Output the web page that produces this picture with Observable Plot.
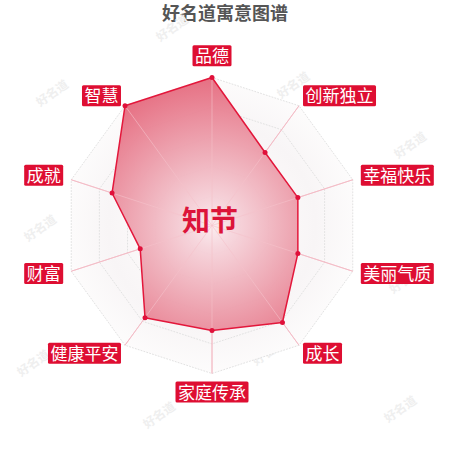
<!DOCTYPE html>
<html><head><meta charset="utf-8">
<script src="https://cdn.jsdelivr.net/npm/d3@7"></script>
<script src="https://cdn.jsdelivr.net/npm/@observablehq/plot@0.6"></script>
<style>
html,body{margin:0;padding:0;background:#fff;}
body{width:450px;height:450px;overflow:hidden;font-family:"Noto Sans CJK SC","Noto Sans",sans-serif;}
#title{height:24px;line-height:24px;text-align:center;font-size:18px;font-weight:bold;color:#555;width:450px;}
#chart svg{display:block;}
</style></head><body>
<div id="title"></div>
<div id="chart"></div>
<script>
const titleText = "好名道寓意图谱";
const centerName = "知节";
const categories = ["品德","创新独立","幸福快乐","美丽气质","成长","家庭传承","健康平安","财富","成就","智慧"];
const values = [100, 61, 61, 61, 81, 71, 77, 51, 71, 100];
const levels = [20, 40, 60, 80, 100];
const maxValue = 100;
const watermarkText = "好名道";
const watermarkX = [-26.7, 55.1, -107.8, 134.1, -115.9, -120.6, 38.2, -35.5, 127.4, 130.7];
const watermarkY = [133.1, 94.6, 89.2, 54.1, -2.0, -93.2, -85.8, -128.4, -124.3, -37.2];

document.getElementById("title").textContent = titleText;

// layout
const W = 450, H = 426, cx = 211.5, cy = 201, k = 1.48; // px per unit
const labelR = 107.5;

const n = categories.length;
const axes = categories.map((c, i) => ({c, a: i * 2 * Math.PI / n, v: values[i]}));
const px = (r, a) => r * Math.sin(a), py = (r, a) => r * Math.cos(a);
const ringPts = levels.flatMap(l => axes.map(d => ({l, x: px(l, d.a), y: py(l, d.a)})));
const outer = axes.map(d => ({x: px(maxValue, d.a), y: py(maxValue, d.a)}));
const spokes = axes.map(d => ({x2: px(maxValue, d.a), y2: py(maxValue, d.a)}));
const dataPts = axes.map(d => ({c: d.c, x: px(d.v, d.a), y: py(d.v, d.a)}));
const labels = axes.map(d => {
  const s = Math.sin(d.a), co = Math.cos(d.a);
  const g = s > 0.01 ? "start" : s < -0.01 ? "end" : (co > 0 ? "top" : "bottom");
  return {c: d.c, g, x: px(labelR, d.a), y: py(labelR, d.a)};
});
const wm = watermarkX.map((x, i) => ({x, y: watermarkY[i], t: watermarkText}));

const labelStyle = {fill: "#fff", fontSize: 17, text: "c", x: "x", y: "y"};

const svg = Plot.plot({
  width: W, height: H,
  margin: 0,
  x: {domain: [-cx / k, (W - cx) / k], axis: null},
  y: {domain: [-(H - cy) / k, cy / k], axis: null},
  style: {fontFamily: '"Noto Sans CJK SC", "Noto Sans", sans-serif', background: "transparent", overflow: "visible"},
  marks: [
    Plot.text(wm, {x: "x", y: "y", text: "t", rotate: -35, fill: "#efefef", fontSize: 12, fontWeight: "bold"}),
    Plot.line(outer, {x: "x", y: "y", curve: "linear-closed", fill: "url(#bgGrad)", stroke: "none"}),
    Plot.line(ringPts, {x: "x", y: "y", z: "l", curve: "linear-closed", stroke: "#e2e2e2", strokeWidth: 1, strokeDasharray: "1 2"}),
    Plot.link(spokes, {x1: () => 0, y1: () => 0, x2: "x2", y2: "y2", stroke: "#f2b0bd", strokeWidth: 1}),
    Plot.line(dataPts, {x: "x", y: "y", curve: "linear-closed", fill: "url(#dataGrad)", fillOpacity: 0.95, stroke: "#e3173b", strokeWidth: 1.5}),
    Plot.link(spokes, {x1: () => 0, y1: () => 0, x2: "x2", y2: "y2", stroke: "#f5c4cd", strokeOpacity: 0.6, strokeWidth: 1}),
    Plot.dot(dataPts, {x: "x", y: "y", r: 2.5, fill: "#e0103a", stroke: "none"}),
    Plot.text([centerName], {x: () => 0, y: () => 0, text: d => d, dx: -2, dy: -3, fontSize: 28, fontWeight: "bold", fill: "#dc1439"}),
    Plot.text(labels.filter(d => d.g === "start"), {...labelStyle, textAnchor: "start", className: "lbl"}),
    Plot.text(labels.filter(d => d.g === "end"), {...labelStyle, textAnchor: "end", className: "lbl"}),
    Plot.text(labels.filter(d => d.g === "top"), {...labelStyle, textAnchor: "middle", dy: -9.5, className: "lbl"}),
    Plot.text(labels.filter(d => d.g === "bottom"), {...labelStyle, textAnchor: "middle", dy: 8.5, className: "lbl"})
  ]
});

document.getElementById("chart").appendChild(svg);

// gradients
const defs = d3.select(svg).insert("defs", ":first-child");
const bg = defs.append("radialGradient").attr("id", "bgGrad").attr("gradientUnits", "userSpaceOnUse")
  .attr("cx", cx).attr("cy", cy).attr("r", maxValue * k);
[[0, "#ffffff"], [0.4, "#fcfafa"], [0.7, "#f8f5f6"], [1, "#fdfcfc"]].forEach(([o, c]) => bg.append("stop").attr("offset", o).attr("stop-color", c));
const dg = defs.append("radialGradient").attr("id", "dataGrad").attr("gradientUnits", "userSpaceOnUse")
  .attr("cx", cx).attr("cy", cy).attr("r", maxValue * k);
[[0, "#fbecef"], [0.15, "#f6d4db"], [0.5, "#eea8b4"], [1, "#e5687c"]].forEach(([o, c]) => dg.append("stop").attr("offset", o).attr("stop-color", c));

// label boxes (placed with the same transform as their text)
d3.select(svg).selectAll("g.lbl text").each(function() {
  const b = this.getBBox();
  const mid = b.y + b.height / 2 + 1;
  d3.select(this.parentNode).insert("rect", () => this)
    .attr("transform", this.getAttribute("transform"))
    .attr("x", b.x - 2.5).attr("y", mid - 10.5)
    .attr("width", b.width + 5).attr("height", 21)
    .attr("rx", 1.5).attr("fill", "#de0e32");
});
</script>
</body></html>
